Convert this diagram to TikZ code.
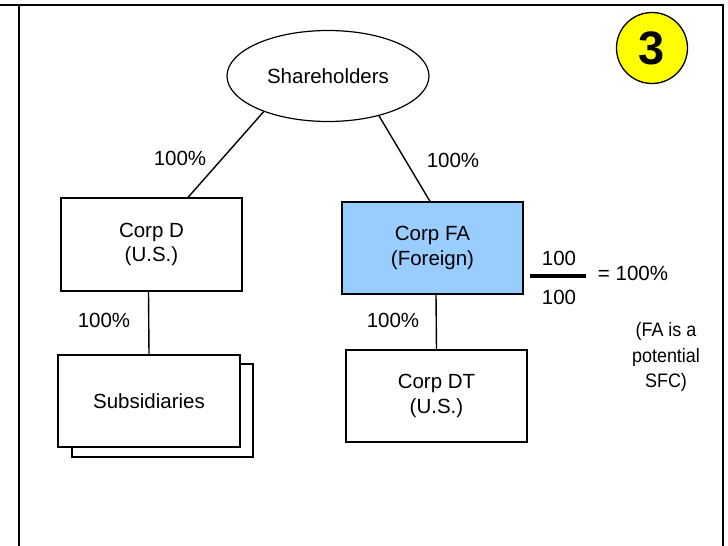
\documentclass[tikz,border=0pt]{standalone}
\usepackage{fontspec}
\usepackage{graphicx}
\setmainfont{Liberation Sans}
\usetikzlibrary{shapes.geometric}
\definecolor{fablue}{HTML}{99CCFF}
\definecolor{badge}{HTML}{FFFF00}
\begin{document}
\begin{tikzpicture}[x=1pt,y=-1pt,
  every node/.style={font=\fontsize{20.5}{24.5}\selectfont},
  box/.style={draw,line width=1.2pt,fill=white,inner sep=0pt,minimum width=181pt,minimum height=92pt,align=center},
  conn/.style={line width=1.4pt},
  lbl/.style={inner sep=0pt}]
\useasboundingbox (0,0) rectangle (728,546);
% frame
\draw[line width=2.4pt] (0,5) -- (723,5) -- (723,546);
\draw[line width=2.4pt] (19,5) -- (19,546);
% badge
\node[circle,draw,fill=badge,line width=1.3pt,minimum size=71pt,inner sep=0pt,font=\fontsize{47}{47}\selectfont\bfseries] (badge) at (652,48) {3};
% nodes
\node[ellipse,draw,line width=1.2pt,fill=white,minimum width=202pt,minimum height=91pt,inner sep=0pt] (sh) at (328,76) {Shareholders};
\node[box,minimum height=93pt] (cd) at (151.5,244.5) {Corp D\\(U.S.)};
\node[box,fill=fablue] (fa) at (432.5,248) {Corp FA\\(Foreign)};
\node[box] (dt) at (436.5,396) {Corp DT\\(U.S.)};
\node[box,minimum height=93pt] (subsback) at (162.5,410.5) {};
\node[box,minimum width=182pt] (subs) at (149,401) {Subsidiaries};
% connectors
\draw[conn] (sh.-151) -- ([xshift=36.5pt]cd.north);
\draw[conn] (sh.-38) -- ([xshift=-2.5pt]fa.north);
\draw[conn] ([xshift=-3pt]cd.south) -- (subs.north);
\draw[conn] ([xshift=3.5pt]fa.south) -- (dt.north);
% labels
\node[lbl] (p1) at (180,158) {100\%};
\node[lbl] (p2) at (453,160) {100\%};
\node[lbl] (p3) at (104,320) {100\%};
\node[lbl] (p4) at (393,320) {100\%};
% fraction
\node[lbl] (fn) at (559,258) {100};
\node[lbl] (fd) at (559,297) {100};
\coordinate (bl) at (530,276);
\coordinate (br) at (586,276);
\draw[line width=3.6pt] (bl) -- (br);
\node[lbl] (eq) at (633,273) {= 100\%};
\node[lbl,font=\fontsize{19.5}{25.5}\selectfont] (note) at (666,357) {\scalebox{0.92}[1]{\begin{tabular}{@{}c@{}}(FA is a\\potential\\SFC)\end{tabular}}};
\end{tikzpicture}
\end{document}
